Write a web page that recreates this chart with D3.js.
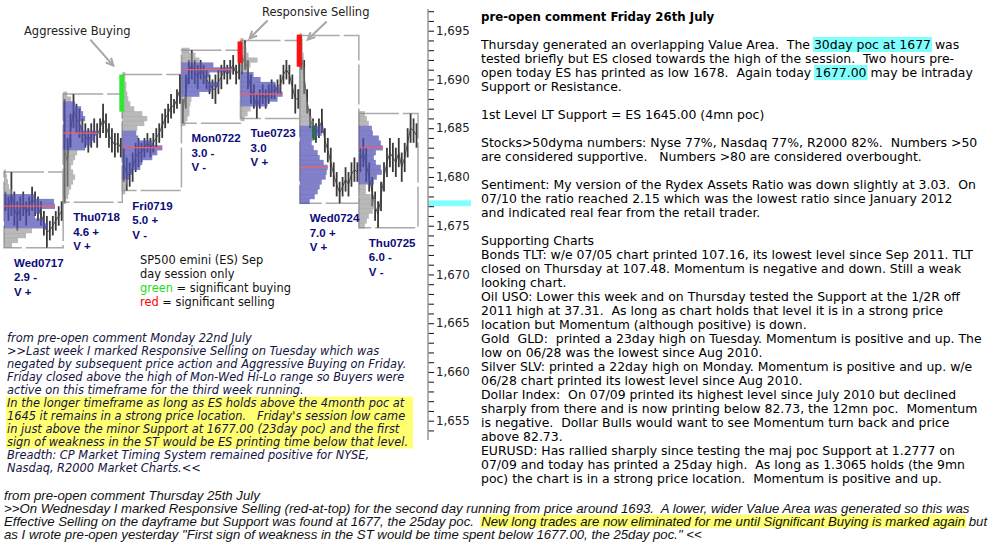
<!DOCTYPE html>
<html><head><meta charset="utf-8">
<script src="https://cdn.jsdelivr.net/npm/d3@7"></script>
<style>body{margin:0;background:#fff;}svg{display:block;}text{white-space:pre;}</style>
</head><body><svg id="c" width="999" height="554"></svg>
<script>
// ---------- DATA ----------
const days = ["Wed0717","Thu0718","Fri0719","Mon0722","Tue0723","Wed0724","Thu0725"];
const dayRange = ["2.9 -","4.6 +","5.0 +","3.0 -","3.0","7.0 +","6.0 -"];
const dayValue = ["V +","V +","V -","V -","V +","V +","V -"];
const dayHigh = [1680.5,1688.5,1690.5,1693,1694,1694.5,1686.5];
const dayLow  = [1672.75,1677.4,1678.6,1685.5,1686,1677.3,1674.8];
const vaHigh  = [1678,1687.5,1684.5,1691.5,1690.5,1685,1685];
const vaLow   = [1675,1683,1680,1688.5,1687.5,1677.5,1679.5];
const pocPrice= [1677,1684.5,1683,1691,1688.5,1681,1683];
const profileTop = [1680.5,1688.5,1690.5,1693,1694,1694.5,1686.5];
// profile volume per 0.5 point, from profileTop downward
const profWed0717 = [2,3,4,5,8,30,50,51,36,31,40,44,28,22,14,8];
const profThu0718 = [4,8,12,18,20,22,17,20,35,32,28,22,14,12,10,8,10,12,10,8,6,5,3];
const profFri0719 = [3,3,4,4,5,6,8,12,20,25,22,15,14,16,30,40,35,30,20,18,10,7,5,4,3];
const profMon0722 = [8,14,18,32,50,28,25,38,30,18,10,9,8,8,6,4];
const profTue0723 = [3,5,6,8,17,10,8,13,20,35,40,42,37,27,10,7,4];
const profWed0724 = [2,3,3,3,4,4,4,5,5,5,5,6,6,7,8,9,10,12,14,23,22,14,12,14,18,20,24,28,27,26,22,20,18,15,10];
const profThu0725 = [6,8,10,13,14,20,22,24,17,15,17,22,23,18,15,7,7,12,17,17,14,10,8,6];
// intraday bars [high, low]
const barsWed0717 = [[1678.5,1676.5],[1678,1675.5],[1680.5,1676],[1678.5,1675],[1677.5,1674.5],[1678,1675.5],[1678.5,1676],[1677.5,1675],[1678,1676],[1679,1676.5],[1678.5,1676],[1678,1675.5],[1677.5,1675],[1676.5,1674],[1676,1672.75],[1675.5,1673.5],[1676,1674],[1676.5,1674.5],[1677,1675],[1677.5,1675.5]];
const barsThu0718 = [[1688,1677.4],[1684,1679],[1686.5,1683],[1688.5,1685],[1687.5,1684.5],[1687,1684],[1686,1683.5],[1685.5,1683],[1685,1682.5],[1685.5,1683],[1686,1683.5],[1685.5,1683],[1686,1684],[1687.5,1684.5],[1686.5,1684],[1685.5,1683],[1685,1682.5],[1684.5,1682],[1684.5,1682.5],[1684,1682]];
const barsFri0719 = [[1683,1679.5],[1682,1678.6],[1681.5,1679],[1682.5,1679.5],[1683.5,1680.5],[1684,1681],[1683.5,1681.5],[1684,1682],[1684.5,1682.5],[1684,1682],[1684.5,1682.5],[1685,1683],[1685.5,1683.5],[1686.5,1684],[1687,1685],[1687.5,1685.5],[1688.5,1686],[1688,1686.5],[1689,1687],[1690.5,1687.5]];
const barsMon0722 = [[1688,1685.5],[1690.5,1687],[1692,1689.5],[1693,1690],[1692,1689.5],[1691.5,1689],[1692,1690],[1691.5,1689.5],[1691,1689],[1690.5,1688.5],[1690,1688],[1690.5,1687.5],[1691,1688.5],[1691.5,1689],[1692,1690],[1691.5,1689.5],[1692,1690],[1692.5,1690.5],[1691.5,1689.5],[1692,1690]];
const barsTue0723 = [[1692.5,1690.5],[1694,1691],[1692,1689],[1690.5,1687.5],[1689.5,1687],[1688.5,1686],[1689,1687],[1689.5,1687.5],[1689,1687],[1689.5,1687.5],[1690,1688],[1689.5,1688],[1690,1688.5],[1690.5,1688.5],[1691.5,1689.5],[1692,1690],[1691.5,1689.5],[1690.5,1688],[1689.5,1686.5],[1689,1687]];
const barsWed0724 = [[1694.5,1691],[1692,1688.5],[1689,1686.5],[1687,1685],[1686,1684],[1685.5,1683.5],[1686,1684],[1687,1684.5],[1685,1682.5],[1684,1681.5],[1683,1680],[1681.5,1679],[1680.5,1678],[1679.5,1677.3],[1680,1678],[1681,1678.5],[1680.5,1678],[1681.5,1679],[1682,1679.5],[1681.5,1679.5]];
const barsThu0725 = [[1683,1680.5],[1684,1681],[1683,1679.5],[1681.5,1678.5],[1680,1677],[1678.5,1675.5],[1677.5,1674.8],[1679.5,1676.5],[1681.5,1678.5],[1683,1680],[1684,1681],[1683.5,1680.5],[1683,1680],[1684,1681],[1682.5,1679.5],[1683.5,1680.5],[1685,1682],[1686.5,1683.5],[1686,1683.5],[1685.5,1683]];
// significant buying / selling markers
const signalDay = ["Fri0719","Tue0723","Wed0724"];
const signalTop = [1690.5,1693.9,1694.6];
const signalBottom = [1686.7,1691.7,1691.3];
const signalType = ["buy","sell","sell"];
const minorSignal = {day:"Wed0724", top:1685.3, bottom:1683.8};
const supportBand = [1677.0, 1677.6];
const axisTicks = d3.range(1654, 1698);

const rightLines = [
"pre-open comment Friday 26th July","",
"Thursday generated an overlapping Value Area.  The [[30day poc at 1677]] was",
"tested briefly but ES closed towards the high of the session.  Two hours pre-",
"open today ES has printed as low 1678.  Again today [[1677.00]] may be intraday",
"Support or Resistance.","",
"1st Level LT Support = ES 1645.00 (4mn poc)","",
"Stocks>50dyma numbers: Nyse 77%, Nasdaq 77%, R2000 82%.  Numbers >50",
"are considered supportive.   Numbers >80 are considered overbought.","",
"Sentiment: My version of the Rydex Assets Ratio was down slightly at 3.03.  On",
"07/10 the ratio reached 2.15 which was the lowest ratio since January 2012",
"and indicated real fear from the retail trader.","",
"Supporting Charts",
"Bonds TLT: w/e 07/05 chart printed 107.16, its lowest level since Sep 2011. TLT",
"closed on Thursday at 107.48. Momentum is negative and down. Still a weak",
"looking chart.",
"Oil USO: Lower this week and on Thursday tested the Support at the 1/2R off",
"2011 high at 37.31.  As long as chart holds that level it is in a strong price",
"location but Momentum (although positive) is down.",
"Gold  GLD:  printed a 23day high on Tuesday. Momentum is positive and up. The",
"low on 06/28 was the lowest since Aug 2010.",
"Silver SLV: printed a 22day high on Monday. Momentum is positive and up. w/e",
"06/28 chart printed its lowest level since Aug 2010.",
"Dollar Index:  On 07/09 printed its highest level since July 2010 but declined",
"sharply from there and is now printing below 82.73, the 12mn poc.  Momentum",
"is negative.  Dollar Bulls would want to see Momentum turn back and price",
"above 82.73.",
"EURUSD: Has rallied sharply since testing the maj poc Support at 1.2777 on",
"07/09 and today has printed a 25day high.  As long as 1.3065 holds (the 9mn",
"poc) the chart is in a strong price location.  Momentum is positive and up."
];
const leftLines = [
"from pre-open comment Monday 22nd July",
">>Last week I marked Responsive Selling on Tuesday which was",
"negated by subsequent price action and Aggressive Buying on Friday.",
"Friday closed above the high of Mon-Wed Hi-Lo range so Buyers were",
"active on this timeframe for the third week running.",
"In the longer timeframe as long as ES holds above the 4month poc at",
"1645 it remains in a strong price location.   Friday's session low came",
"in just above the minor Support at 1677.00 (23day poc) and the first",
"sign of weakness in the ST would be ES printing time below that level.",
"Breadth: CP Market Timing System remained positive for NYSE,",
"Nasdaq, R2000 Market Charts.<<"
];
const leftHighlighted = [5,6,7,8];
const bottomLines = [
"from pre-open comment Thursday 25th July",
">>On Wednesday I marked Responsive Selling (red-at-top) for the second day running from price around 1693.  A lower, wider Value Area was generated so this was",
"Effective Selling on the dayframe but Support was found at 1677, the 25day poc.  [[New long trades are now eliminated for me until Significant Buying is marked again]] but",
"as I wrote pre-open yesterday \"First sign of weakness in the ST would be time spent below 1677.00, the 25day poc.\" <<"
];
const legendLines = [["SP500 emini (ES) Sep"],["day session only"],[["green","g"]," = significant buying"],[["red","r"]," = significant selling"]];

// ---------- CHART ----------
const profiles = [profWed0717,profThu0718,profFri0719,profMon0722,profTue0723,profWed0724,profThu0725];
const bars = [barsWed0717,barsThu0718,barsFri0719,barsMon0722,barsTue0723,barsWed0724,barsThu0725];
const svg = d3.select("#c");
svg.append("rect").attr("width",999).attr("height",554).attr("fill","#fff");
const y = d3.scaleLinear().domain([1655,1695]).range([420.7,30.7]);
const x = d3.scaleBand().domain(days).range([4,418]);
const bw = x.bandwidth();
const vol = d3.scaleLinear().domain([0,50]).range([0,50]);
const HL = "#ffff70", CY = "#80ffff";

// support band near axis
svg.append("rect").attr("x",428).attr("width",43).attr("y",y(supportBand[1])).attr("height",y(supportBand[0])-y(supportBand[1])).attr("fill",CY);

// axis
const ax = svg.append("g").attr("transform","translate(428,0)")
  .call(d3.axisRight(y).tickValues(axisTicks).tickSize(6).tickPadding(2)
    .tickFormat(d => d % 5 === 0 ? d3.format(",")(d) : ""));
ax.select(".domain").remove();
ax.selectAll(".tick line").attr("stroke","#111");
ax.selectAll(".tick text").attr("font-family","DejaVu Sans").attr("font-size",11.8).attr("fill","#222");
svg.append("line").attr("x1",428).attr("x2",428).attr("y1",9).attr("y2",440).attr("stroke","#999").attr("stroke-width",1.5);

const chart = svg.append("g");
// day boxes
chart.selectAll(".box").data(days).join("rect")
  .attr("x",d=>x(d)).attr("width",bw)
  .attr("y",(d,i)=>y(dayHigh[i])).attr("height",(d,i)=>y(dayLow[i])-y(dayHigh[i]))
  .attr("fill","none").attr("stroke","#aaa").attr("stroke-width",1.5).attr("stroke-dasharray","40 4");

// price bars
days.forEach((d,i)=>{
  const b = bars[i], n = b.length, step = bw/n;
  const bx = k => x(d) + (k+0.5)*step;
  // thin line joining the bars' midpoints
  chart.append("path").attr("d",d3.line()(b.map((v,k)=>[bx(k), y((v[0]+v[1])/2)])))
    .attr("fill","none").attr("stroke","#555").attr("stroke-width",1);
  chart.selectAll(null).data(b).join("line")
    .attr("x1",(v,k)=>bx(k)).attr("x2",(v,k)=>bx(k))
    .attr("y1",v=>y(v[0])).attr("y2",v=>y(v[1]))
    .attr("stroke","#3a3a3a").attr("stroke-width",1.8);
});

// profiles
days.forEach((d,i)=>{
  const p = profiles[i];
  const rows = p.map((v,k)=>({price: profileTop[i]-0.5*k, v}));
  const inVA = r => r.price<=vaHigh[i] && r.price>=vaLow[i];
  chart.selectAll(null).data(rows).join("rect")
    .attr("x",x(d)).attr("width",r=>vol(r.v))
    .attr("y",r=>y(r.price+0.25)).attr("height",r=>y(r.price-0.25)-y(r.price+0.25)+0.3)
    .attr("fill",r=> inVA(r) ? "#5050b4" : "#8a8a8a")
    .attr("fill-opacity",r=> inVA(r) ? 0.72 : 0.6);
  const pv = rows.find(r=>r.price===pocPrice[i]);
  chart.append("line").attr("x1",x(d)).attr("x2",x(d)+vol(pv.v))
    .attr("y1",y(pocPrice[i])).attr("y2",y(pocPrice[i])).attr("stroke","#ff5a5a").attr("stroke-width",1.2);
});

// signal markers
chart.selectAll(".sig").data(signalDay).join("rect")
  .attr("x",d=>x(d)-3).attr("width",5)
  .attr("y",(d,i)=>y(signalTop[i])).attr("height",(d,i)=>y(signalBottom[i])-y(signalTop[i]))
  .attr("fill",(d,i)=>signalType[i]==="buy"?"#33e633":"#ff1010");
chart.append("line").attr("x1",x(minorSignal.day)+bw*0.24).attr("x2",x(minorSignal.day)+bw*0.24)
  .attr("y1",y(minorSignal.top)).attr("y2",y(minorSignal.bottom)).attr("stroke","#0a8a0a").attr("stroke-width",2);

// day labels
days.forEach((d,i)=>{
  const g = chart.append("text").attr("font-family","Liberation Sans, Arial").attr("font-weight","bold")
    .attr("font-size",11.5).attr("fill","#0c0c78");
  [d, dayRange[i], dayValue[i]].forEach((t,k)=>{
    g.append("tspan").attr("x",x(d)+10).attr("y",y(dayLow[i])+15+14.5*k).attr("dy","0.35em").text(t);
  });
});

// annotations
function arrow(x1,y1,x2,y2){
  const g = svg.append("g").attr("stroke","#a6a6a6").attr("stroke-width",2).attr("fill","none");
  g.append("line").attr("x1",x1).attr("y1",y1).attr("x2",x2).attr("y2",y2);
  const a = Math.atan2(y2-y1,x2-x1), L=8;
  g.append("path").attr("d",`M${x2-L*Math.cos(a-0.45)},${y2-L*Math.sin(a-0.45)}L${x2},${y2}L${x2-L*Math.cos(a+0.45)},${y2-L*Math.sin(a+0.45)}`);
}
const sx = i => x(signalDay[i]) - 3, sy = i => y(signalTop[i]);
svg.append("text").attr("x",24).attr("y",31).attr("dy","0.35em").attr("font-family","DejaVu Sans").attr("font-size",11.5).attr("fill","#222").text("Aggressive Buying");
arrow(sx(0)-29, sy(0)-35, sx(0)-6, sy(0)-9);
svg.append("text").attr("x",262).attr("y",12).attr("dy","0.35em").attr("font-family","DejaVu Sans").attr("font-size",11.5).attr("fill","#222").text("Responsive Selling");
arrow(sx(1)+30, sy(1)-21, sx(1)+12, sy(1)-3);
arrow(sx(2)+30, sy(2)-13, sx(2)+11, sy(2)+5);

// legend
legendLines.forEach((ln,k)=>{
  const t = svg.append("text").attr("x",140).attr("y",260+14*k).attr("dy","0.35em")
    .attr("font-family","DejaVu Sans").attr("font-size",11.4).attr("fill","#111");
  ln.forEach(s=>{
    if (Array.isArray(s)) t.append("tspan").attr("fill", s[1]==="g"?"#22dd22":"#ff0000").text(s[0]);
    else t.append("tspan").text(s);
  });
});

// text blocks with highlight
function block(lines, opt){
  const g = svg.append("g");
  lines.forEach((ln,k)=>{
    const cy = opt.y0 + opt.dy*k;
    const parts = ln.split(/(\[\[.*?\]\])/).filter(s=>s.length);
    const bold = opt.boldFirst && k===0;
    const t = g.append("text").attr("x",opt.x).attr("y",cy).attr("dy","0.35em")
      .attr("font-family",opt.font).attr("font-size",bold?opt.boldSize:opt.size).attr("fill",opt.color)
      .attr("font-style",opt.italic?"italic":"normal")
      .attr("font-weight",bold?"bold":"normal");
    const spans = parts.map(s=>{
      const hl = s.startsWith("[[");
      const sp = t.append("tspan").text(hl? s.slice(2,-2) : s);
      return {sp, hl};
    });
    let cx = opt.x;
    spans.forEach(o=>{
      const w = o.sp.node().getComputedTextLength();
      if (o.hl) g.insert("rect","text").attr("x",cx-1).attr("width",w+2).attr("y",cy-opt.hTop).attr("height",opt.hH).attr("fill",opt.hl);
      cx += w;
    });
  });
  return g;
}
// left paragraph highlight block
svg.append("rect").attr("x",6).attr("width",407)
  .attr("y",338+13*leftHighlighted[0]-6.5).attr("height",13*leftHighlighted.length).attr("fill",HL);
block(leftLines,{x:7,y0:338,dy:13,font:"DejaVu Sans",size:11.4,italic:true,color:"#141440"});
block(rightLines,{x:481,y0:17,dy:14,font:"DejaVu Sans",size:12.45,boldSize:11.75,color:"#000",boldFirst:true,hl:CY,hTop:8,hH:15});
block(bottomLines,{x:4,y0:495,dy:13.1,font:"Liberation Sans, Arial",size:13.2,italic:true,color:"#111",hl:HL,hTop:6.5,hH:13});
</script></body></html>
